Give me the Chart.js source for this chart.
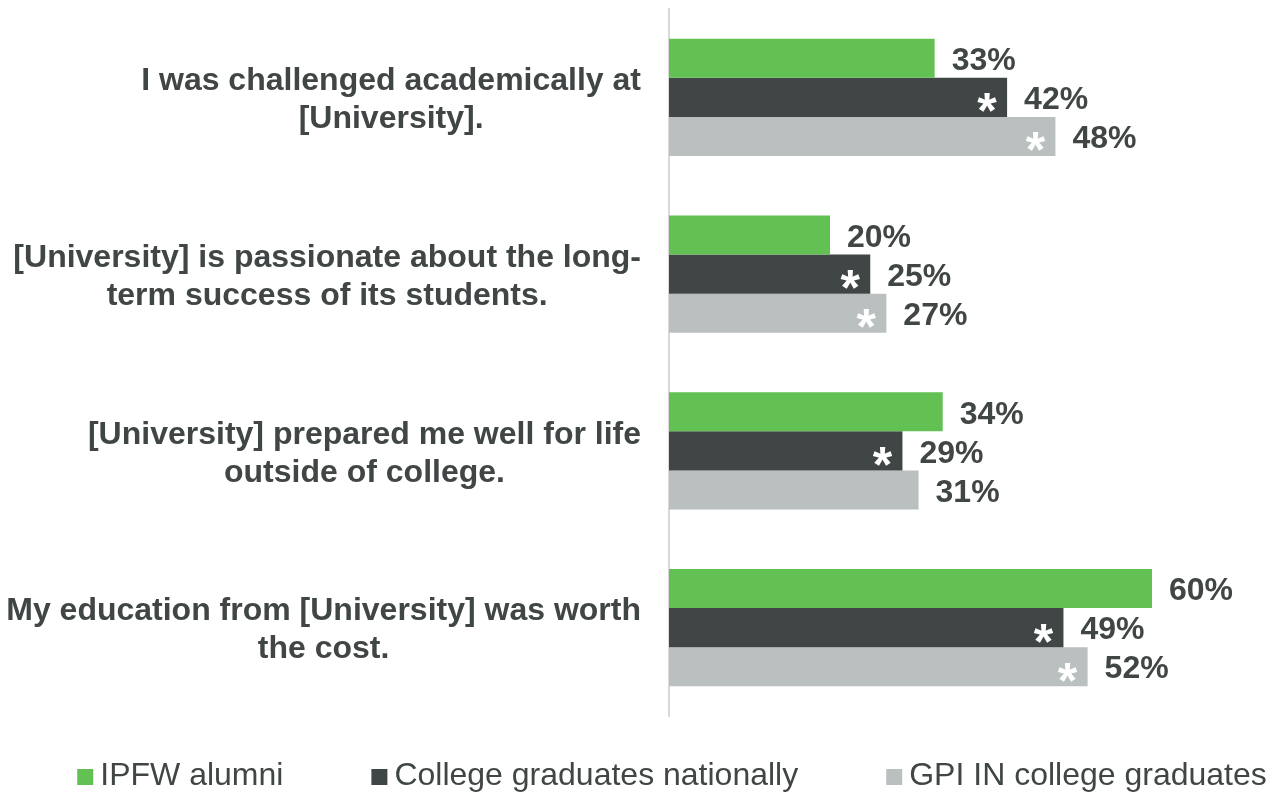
<!DOCTYPE html>
<html>
<head>
<meta charset="utf-8">
<script src="https://cdn.jsdelivr.net/npm/chart.js@4.4.1/dist/chart.umd.min.js"></script>
<style>
  html, body { margin: 0; padding: 0; background: #ffffff; }
  #wrap { width: 1267px; height: 793px; }
</style>
</head>
<body>
<div id="wrap"><canvas id="c" width="1267" height="793"></canvas></div>
<script>
// ---- data ----
const categories = [
  ["I was challenged academically at", "[University]."],
  ["[University] is passionate about the long-", "term success of its students."],
  ["[University] prepared me well for life", "outside of college."],
  ["My education from [University] was worth", "the cost."]
];
const seriesNames = ["IPFW alumni", "College graduates nationally", "GPI IN college graduates"];
const ipfwAlumni = [33, 20, 34, 60];
const collegeGradsNational = [42, 25, 29, 49];
const gpiInGrads = [48, 27, 31, 52];
// significance markers (asterisks) per series
const ipfwStar = [false, false, false, false];
const nationalStar = [true, true, true, true];
const gpiStar = [true, true, false, true];

const colors = ["#62c152", "#404545", "#babfbf"];
const textColor = "#404545";
const FONT = "'Liberation Sans', Arial, sans-serif";

const stars = [ipfwStar, nationalStar, gpiStar];

const valueLabelPlugin = {
  id: 'valueLabels',
  afterDatasetsDraw(chart) {
    const ctx = chart.ctx;
    ctx.save();
    chart.data.datasets.forEach((ds, di) => {
      const meta = chart.getDatasetMeta(di);
      meta.data.forEach((bar, i) => {
        const v = ds.data[i];
        // value label
        ctx.font = "bold 32px " + FONT;
        ctx.fillStyle = textColor;
        ctx.textAlign = 'left';
        ctx.textBaseline = 'middle';
        ctx.fillText(v + '%', bar.x + 17, bar.y + 3);
        // asterisk
        if (stars[di][i]) {
          ctx.font = "bold 50px " + FONT;
          ctx.fillStyle = '#ffffff';
          ctx.textAlign = 'center';
          ctx.textBaseline = 'alphabetic';
          ctx.fillText('*', bar.x - 20, bar.y + 31);
        }
      });
    });
    ctx.restore();
  }
};

const categoryLabelPlugin = {
  id: 'categoryLabels',
  afterDraw(chart) {
    const ctx = chart.ctx;
    const yScale = chart.scales.y;
    const rightEdge = chart.chartArea.left - 28;
    const lineH = 38;
    ctx.save();
    ctx.font = "bold 32px " + FONT;
    ctx.fillStyle = textColor;
    ctx.textAlign = 'center';
    ctx.textBaseline = 'middle';
    categories.forEach((lines, i) => {
      const yc = yScale.getPixelForValue(i);
      const widest = Math.max(...lines.map(l => ctx.measureText(l).width));
      const cx = rightEdge - widest / 2;
      const y0 = yc - (lines.length - 1) * lineH / 2;
      lines.forEach((l, k) => ctx.fillText(l, cx, y0 + k * lineH + 3));
    });
    ctx.restore();
  }
};

const legendPlugin = {
  id: 'customLegend',
  afterDraw(chart) {
    const ctx = chart.ctx;
    const box = 16, gapBoxText = 7, itemGap = 88;
    const yMid = 776;
    ctx.save();
    ctx.font = "32px " + FONT;
    const widths = seriesNames.map(n => box + gapBoxText + ctx.measureText(n).width);
    const total = widths.reduce((a, b) => a + b, 0) + itemGap * (seriesNames.length - 1);
    const center = 672;
    let x = center - total / 2;
    seriesNames.forEach((n, i) => {
      ctx.fillStyle = colors[i];
      ctx.fillRect(x, yMid - 7, box, box);
      ctx.fillStyle = textColor;
      ctx.textAlign = 'left';
      ctx.textBaseline = 'middle';
      ctx.fillText(n, x + box + gapBoxText, yMid);
      x += widths[i] + itemGap;
    });
    ctx.restore();
  }
};

new Chart(document.getElementById('c'), {
  type: 'bar',
  data: {
    labels: categories,
    datasets: [
      { label: seriesNames[0], data: ipfwAlumni, backgroundColor: colors[0] },
      { label: seriesNames[1], data: collegeGradsNational, backgroundColor: colors[1] },
      { label: seriesNames[2], data: gpiInGrads, backgroundColor: colors[2] }
    ]
  },
  options: {
    indexAxis: 'y',
    responsive: false,
    animation: false,
    devicePixelRatio: 1,
    layout: { padding: { top: 9, bottom: 77, left: 0, right: 34.5 } },
    datasets: { bar: { categoryPercentage: 0.662, barPercentage: 1.0, borderWidth: 0 } },
    scales: {
      x: { display: false, min: 0, max: 70 },
      y: {
        display: true,
        grid: { display: false, drawTicks: false },
        border: { display: true, color: '#d9d9d9', width: 2 },
        ticks: { display: false },
        afterFit(scale) { scale.width = 669; }
      }
    },
    plugins: {
      legend: { display: false },
      tooltip: { enabled: false }
    }
  },
  plugins: [valueLabelPlugin, categoryLabelPlugin, legendPlugin]
});
</script>
</body>
</html>
